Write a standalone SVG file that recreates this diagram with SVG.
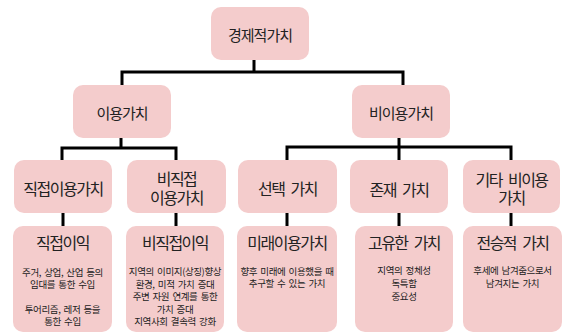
<svg xmlns="http://www.w3.org/2000/svg" width="564" height="334" viewBox="0 0 564 334">
<style>
text{font-family:"Noto Sans CJK KR","Noto Sans",sans-serif;fill:#222;text-anchor:middle;dominant-baseline:central}
.box{fill:#f4cccc}
.t1{font-size:15px;letter-spacing:-1px;word-spacing:3px}
.t2{font-size:16px;letter-spacing:-1.5px;word-spacing:4px}
.b{font-size:9.5px;letter-spacing:-0.4px;word-spacing:1.5px}
.c{fill:none;stroke:#000;stroke-width:3;stroke-linecap:butt;stroke-linejoin:miter}
</style>
<rect width="564" height="334" fill="#fff"/>
<g id="connectors">
<path class="c" d="M254 60V72M122 85V72H403V85"/>
<path class="c" d="M121 138V148M62 160V148H176V160"/>
<path class="c" d="M399 138V160M287 160V147H511V160"/>
<path class="c" d="M63 213V226M176 213V226M287 213V226M399 213V226M511 213V226"/>
</g>
<g id="n-econ"><rect class="box" x="211" y="7" width="98" height="53" rx="10"/><text class="t1" x="260" y="34">경제적가치</text></g>
<g id="n-use"><rect class="box" x="73" y="85" width="98" height="53" rx="10"/><text class="t1" x="122" y="112">이용가치</text></g>
<g id="n-nonuse"><rect class="box" x="352" y="85" width="98" height="53" rx="10"/><text class="t1" x="401" y="112">비이용가치</text></g>
<g id="n-direct"><rect class="box" x="14" y="160" width="98" height="53" rx="10"/><text class="t2" x="63" y="188">직접이용가치</text></g>
<g id="n-indirect"><rect class="box" x="127" y="160" width="99" height="53" rx="10"/><text class="t2" x="176.5" y="178">비직접</text><text class="t2" x="176.5" y="197">이용가치</text></g>
<g id="n-option"><rect class="box" x="238" y="160" width="99" height="53" rx="10"/><text class="t2" x="287.5" y="188">선택 가치</text></g>
<g id="n-exist"><rect class="box" x="350" y="160" width="98" height="53" rx="10"/><text class="t2" x="399" y="189">존재 가치</text></g>
<g id="n-other"><rect class="box" x="463" y="160" width="97" height="53" rx="10"/><text class="t2" x="511.5" y="179">기타 비이용</text><text class="t2" x="511.5" y="197">가치</text></g>
<g id="n-d-benefit"><rect class="box" x="13" y="226" width="99" height="106" rx="10"/><text class="t2" x="62.5" y="242">직접이익</text>
<text class="b" x="62.5" y="272">주거, 상업, 산업 등의</text><text class="b" x="62.5" y="284">임대를 통한 수입</text>
<text class="b" x="62.5" y="309">투어리즘, 레저 등을</text><text class="b" x="62.5" y="321">통한 수입</text></g>
<g id="n-i-benefit"><rect class="box" x="126" y="226" width="98" height="106" rx="10"/><text class="t2" x="175" y="242">비직접이익</text>
<text class="b" x="175" y="271">지역의 이미지(상징)향상</text><text class="b" x="175" y="283.5">환경, 미적 가치 증대</text><text class="b" x="175" y="296">주변 자원 연계를 통한</text><text class="b" x="175" y="308.5">가치 증대</text><text class="b" x="175" y="321">지역사회 결속력 강화</text></g>
<g id="n-future"><rect class="box" x="237" y="226" width="100" height="106" rx="10"/><text class="t2" x="287" y="242">미래이용가치</text>
<text class="b" x="287" y="271">향후 미래에 이용했을 때</text><text class="b" x="287" y="283">추구할 수 있는 가치</text></g>
<g id="n-unique"><rect class="box" x="355" y="226" width="98" height="106" rx="10"/><text class="t2" x="404" y="242">고유한 가치</text>
<text class="b" x="404" y="270">지역의 정체성</text><text class="b" x="404" y="283">독특함</text><text class="b" x="404" y="296">중요성</text></g>
<g id="n-bequest"><rect class="box" x="463" y="226" width="99" height="106" rx="10"/><text class="t2" x="512.5" y="242">전승적 가치</text>
<text class="b" x="512.5" y="270">후세에 남겨줌으로서</text><text class="b" x="512.5" y="283">남겨지는 가치</text></g>
</svg>
